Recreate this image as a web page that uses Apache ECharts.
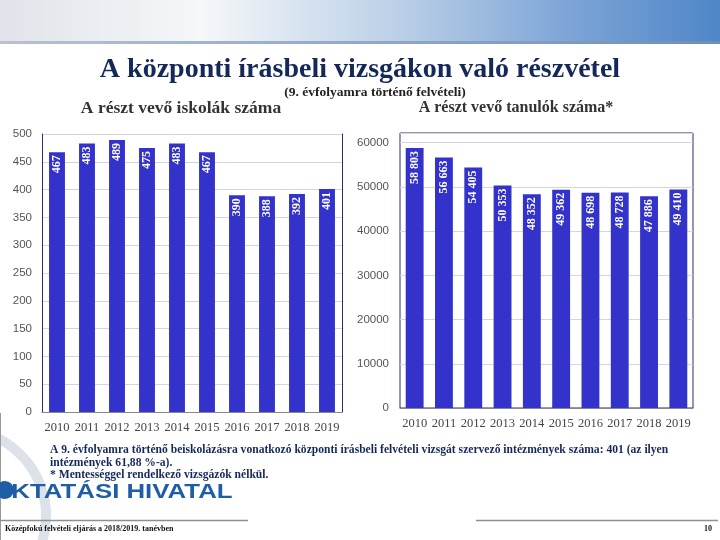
<!DOCTYPE html>
<html><head><meta charset="utf-8">
<script src="https://cdn.jsdelivr.net/npm/echarts@6/dist/echarts.min.js"></script>
<style>html,body{margin:0;padding:0;background:#fff}#c{width:720px;height:540px}</style>
</head><body><div id="c"></div>
<script>
const years = ['2010','2011','2012','2013','2014','2015','2016','2017','2018','2019'];
const schools = [467, 483, 489, 475, 483, 467, 390, 388, 392, 401];
const students = [58803, 56663, 54405, 50353, 48352, 49362, 48698, 48728, 47886, 49410];
const schoolTicks = {min: 0, max: 500, interval: 50};
const studentTicks = {min: 0, max: 62200, interval: 10000};

const BAR = '#3333CC';
const serif = "'Liberation Serif','Times New Roman',serif";
const sans = "'Liberation Sans',Arial,sans-serif";
const navy = '#14285a';

function fmtSpace(v){ return String(v).replace(/\B(?=(\d{3})+(?!\d))/g, ' '); }

const barLabel = (fmt) => ({
  show: true, position: 'insideTop', rotate: 90, align: 'right', verticalAlign: 'middle',
  distance: 3, color: '#fff', fontFamily: serif, fontWeight: 'bold', fontSize: 12,
  formatter: p => fmt(p.value)
});

const chart = echarts.init(document.getElementById('c'), null, {renderer: 'canvas'});
chart.setOption({
  animation: false,
  backgroundColor: '#fff',
  grid: [
    {left: 42, right: 378, top: 134, bottom: 128},
    {left: 400, right: 27, top: 133, bottom: 132, show: true, borderColor: '#2b2b6b', borderWidth: 1}
  ],
  xAxis: [
    {type: 'category', gridIndex: 0, data: years, axisTick: {show: false},
     axisLine: {lineStyle: {color: '#888'}},
     axisLabel: {color: '#444', fontFamily: serif, fontSize: 12.5, margin: 9, interval: 0}},
    {type: 'category', gridIndex: 1, data: years, axisTick: {show: false},
     axisLine: {lineStyle: {color: '#888'}},
     axisLabel: {color: '#444', fontFamily: serif, fontSize: 12.5, margin: 9, interval: 0}}
  ],
  yAxis: [
    {type: 'value', gridIndex: 0, min: schoolTicks.min, max: schoolTicks.max, interval: schoolTicks.interval,
     axisLine: {show: true, lineStyle: {color: '#2b2b6b'}}, axisTick: {show: false},
     splitLine: {lineStyle: {color: '#d4d4dc'}},
     axisLabel: {color: '#555', fontFamily: sans, fontSize: 11.5, margin: 10}},
    {type: 'value', gridIndex: 0, position: 'right', min: 0, max: 1,
     axisLine: {show: true, lineStyle: {color: '#2b2b6b'}}, axisTick: {show: false},
     splitLine: {show: false}, axisLabel: {show: false}},
    {type: 'value', gridIndex: 1, min: studentTicks.min, max: studentTicks.max, interval: studentTicks.interval,
     axisLine: {show: false}, axisTick: {show: false},
     splitLine: {lineStyle: {color: '#d4d4dc'}},
     axisLabel: {color: '#555', fontFamily: sans, fontSize: 11.5, margin: 11, showMaxLabel: false,
       formatter: v => String(v)}}
  ],
  series: [
    {type: 'bar', xAxisIndex: 0, yAxisIndex: 0, data: schools, barWidth: '53%',
     itemStyle: {color: BAR}, label: barLabel(v => String(v))},
    {type: 'bar', xAxisIndex: 1, yAxisIndex: 2, data: students, barWidth: '61%',
     itemStyle: {color: BAR}, label: barLabel(fmtSpace)}
  ],
  graphic: [
    {type: 'rect', shape: {x: 0, y: 0, width: 720, height: 42}, z: 0,
     style: {fill: new echarts.graphic.LinearGradient(0, 0, 1, 0, [
       {offset: 0, color: '#e0e4ea'}, {offset: 0.28, color: '#f5f7f9'},
       {offset: 0.55, color: '#bcd0e8'}, {offset: 0.8, color: '#7ba3d6'}, {offset: 1, color: '#4f86c8'}])}},
    {type: 'rect', shape: {x: 0, y: 41, width: 720, height: 3}, z: 1,
     style: {fill: new echarts.graphic.LinearGradient(0, 0, 1, 0, [
       {offset: 0, color: '#b8c2cf'}, {offset: 1, color: '#6f8fb8'}])}},
    {type: 'text', x: 360, y: 70, z: 5, style: {text: 'A központi írásbeli vizsgákon való részvétel',
      fill: navy, font: `bold 28px ${serif}`, textAlign: 'center', textVerticalAlign: 'middle'}},
    {type: 'text', x: 375, y: 93, z: 5, style: {text: '(9. évfolyamra történő felvételi)',
      fill: '#222', font: `bold 13.5px ${serif}`, textAlign: 'center', textVerticalAlign: 'middle'}},
    {type: 'text', x: 181, y: 108, z: 5, style: {text: 'A részt vevő iskolák száma',
      fill: '#333', font: `bold 17.5px ${serif}`, textAlign: 'center', textVerticalAlign: 'middle'}},
    {type: 'text', x: 516, y: 108, z: 5, style: {text: 'A részt vevő tanulók száma*',
      fill: '#333', font: `bold 16px ${serif}`, textAlign: 'center', textVerticalAlign: 'middle'}},
    {type: 'arc', shape: {cx: -41, cy: 516, r: 87, startAngle: -110 * Math.PI / 180, endAngle: 20 * Math.PI / 180}, z: 0,
     style: {stroke: '#dde1e8', lineWidth: 10, fill: null}},
    {type: 'line', shape: {x1: 0.5, y1: 413, x2: 0.5, y2: 540}, z: 1, style: {stroke: '#999', lineWidth: 1}},
    {type: 'text', x: 50, y: 450, z: 5, style: {text: 'A 9. évfolyamra történő beiskolázásra vonatkozó központi írásbeli felvételi vizsgát szervező intézmények száma: 401 (az ilyen',
      fill: navy, font: `bold 11.6px ${serif}`, textVerticalAlign: 'middle'}},
    {type: 'text', x: 50, y: 463, z: 5, style: {text: 'intézmények 61,88 %-a).',
      fill: navy, font: `bold 11.6px ${serif}`, textVerticalAlign: 'middle'}},
    {type: 'text', x: 50, y: 475, z: 5, style: {text: '* Mentességgel rendelkező vizsgázók nélkül.',
      fill: navy, font: `bold 11.6px ${serif}`, textVerticalAlign: 'middle'}},
    {type: 'circle', shape: {cx: 5, cy: 490, r: 9}, z: 5, style: {fill: '#1f5ea6'}},
    {type: 'text', x: 16, y: 492, scaleX: 1.29, originX: 16, originY: 492, z: 5, style: {text: 'KTATÁSI HIVATAL',
      fill: '#1f5ea6', font: `bold 20px ${sans}`, textVerticalAlign: 'middle'}},
    {type: 'line', shape: {x1: 0, y1: 520.5, x2: 248, y2: 520.5}, z: 2, style: {stroke: '#8a9099', lineWidth: 1.5}},
    {type: 'line', shape: {x1: 476, y1: 520.5, x2: 718, y2: 520.5}, z: 2, style: {stroke: '#8a9099', lineWidth: 1.5}},
    {type: 'text', x: 5, y: 529, z: 5, style: {text: 'Középfokú felvételi eljárás a 2018/2019. tanévben',
      fill: '#111', font: `bold 8px ${serif}`, textVerticalAlign: 'middle'}},
    {type: 'text', x: 712, y: 529, z: 5, style: {text: '10',
      fill: '#111', font: `bold 8px ${serif}`, textAlign: 'right', textVerticalAlign: 'middle'}}
  ]
});
</script></body></html>
